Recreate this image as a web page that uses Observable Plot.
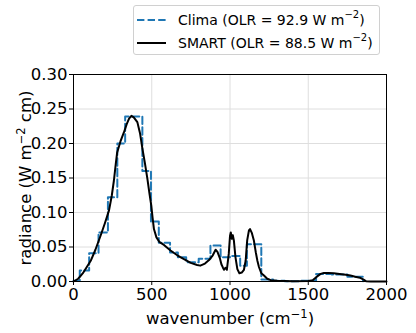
<!DOCTYPE html>
<html>
<head>
<meta charset="utf-8">
<script src="https://cdn.jsdelivr.net/npm/d3@7"></script>
<script src="https://cdn.jsdelivr.net/npm/@observablehq/plot@0.6"></script>
<style>
  html, body { margin: 0; padding: 0; background: #fff; }
  #wrap { position: relative; width: 416px; height: 333px; font-family: "DejaVu Sans", sans-serif; }
  #legend { position: absolute; left: 133px; top: 5px; width: 247px; height: 50px;
    border: 1px solid #d0d0d0; border-radius: 3px; background: rgba(255,255,255,0.8); box-sizing: border-box; }
  .row { position: absolute; left: 0; height: 20px; display: flex; align-items: center; font-size: 14px; color: #000; white-space: nowrap; }
  .row svg { margin-left: 3px; margin-right: 12px; }
  .row sup { font-size: 10px; position: relative; top: -1px; line-height: 0; }
</style>
</head>
<body>
<div id="wrap"></div>
<script>
// Clima band edges (cm^-1) and band-averaged radiance
const climaEdges = [0,40,100,160,220,280,330,380,440,495,545,617,667,720,800,875,940,1000,1065,1108,1200,1275,1350,1450,1550,1650,1750,1850,1950];
const climaValues = [0.001,0.016,0.041,0.071,0.122,0.200,0.239,0.239,0.160,0.087,0.056,0.042,0.035,0.028,0.033,0.052,0.035,0.037,0.023,0.054,0.003,0.001,0.0003,0.001,0.011,0.010,0.007,0.0002];

// SMART spectrum (cm^-1, radiance)
const smartWn = [0,30,60,110,140,174,200,227,245,258,270,279,300,322,340,355,370,385,408,425,440,456,472,485,497,505,514,530,550,578,620,663,700,749,790,810,840,866,890,908,920,935,945,955,962,972,980,992,1000,1005,1012,1018,1025,1035,1047,1060,1075,1089,1100,1110,1121,1128,1140,1153,1165,1175,1185,1200,1217,1238,1260,1300,1400,1500,1530,1555,1579,1600,1630,1663,1700,1740,1770,1800,1830,1856,1870,1900,2000];
const smartVal = [0.0,0.004,0.012,0.030,0.046,0.067,0.084,0.103,0.125,0.146,0.170,0.187,0.203,0.216,0.228,0.236,0.240,0.238,0.231,0.215,0.193,0.172,0.149,0.128,0.110,0.093,0.076,0.064,0.057,0.053,0.045,0.038,0.033,0.027,0.024,0.023,0.026,0.031,0.038,0.046,0.043,0.034,0.025,0.020,0.017,0.020,0.017,0.040,0.066,0.071,0.062,0.067,0.059,0.035,0.018,0.012,0.013,0.017,0.030,0.060,0.074,0.076,0.070,0.059,0.042,0.030,0.021,0.012,0.0087,0.004,0.002,0.001,0.0005,0.0006,0.002,0.007,0.011,0.0125,0.0125,0.012,0.011,0.0098,0.0087,0.007,0.0055,0.0025,0.0003,0,0];

const xTicks = [0,500,1000,1500,2000];
const yTicks = [0,0.05,0.10,0.15,0.20,0.25,0.30];
// [base, superscript, tail]
const legendLabels = [["Clima (OLR = 92.9 W m", "\u22122", ")"], ["SMART (OLR = 88.5 W m", "\u22122", ")"]];
const xLabel = ["wavenumber (cm", "\u22121", ")"];
const yLabel = ["radiance (W m", "\u22122", " cm)"];

const clima = climaEdges.map((e,i) => ({x: e, y: climaValues[i]}));
clima.push({x: climaEdges[climaEdges.length-1], y: climaValues[climaValues.length-1]});
const smart = smartWn.map((w,i) => ({x: w, y: smartVal[i]}));

const chart = Plot.plot({
  width: 416, height: 333,
  marginTop: 74, marginBottom: 52, marginLeft: 73, marginRight: 30,
  style: {fontFamily: "DejaVu Sans, sans-serif", fontSize: "16px", color: "#000", background: "#fff"},
  x: {domain: [0,2000], ticks: xTicks, tickFormat: d => String(d), label: null},
  y: {domain: [0,0.30], ticks: yTicks, tickFormat: d3.format(".2f"), label: null},
  marks: [
    Plot.gridX(xTicks.slice(1,-1), {stroke: "#dedede", strokeOpacity: 1, strokeWidth: 1}),
    Plot.gridY(yTicks.slice(1,-1), {stroke: "#dedede", strokeOpacity: 1, strokeWidth: 1}),
    Plot.line(clima, {x: "x", y: "y", curve: "step-after", stroke: "#1f77b4", strokeWidth: 2, strokeDasharray: "7.4,3.2"}),
    Plot.line(smart, {x: "x", y: "y", stroke: "#000", strokeWidth: 2}),
    Plot.frame({stroke: "#000", strokeWidth: 1}),
    Plot.axisX({ticks: xTicks, tickFormat: d => String(d), tickSize: 4, tickPadding: 3, fontSize: 16.5, label: null}),
    Plot.axisY({ticks: yTicks, tickFormat: d3.format(".2f"), tickSize: 4, tickPadding: 2, fontSize: 16.5, label: null}),
    Plot.text([xLabel.join("")], {frameAnchor: "bottom", dy: 37, lineAnchor: "middle", text: d => d, fontSize: 16.5, className: "xlab"}),
    Plot.text([yLabel.join("")], {frameAnchor: "left", dx: -48, rotate: -90, lineAnchor: "middle", textAnchor: "middle", text: d => d, fontSize: 16.5, className: "ylab"})
  ]
});

// render superscripts matplotlib-style with tspans
function supify(sel, parts) {
  const t = chart.querySelector(sel + " text");
  if (!t) return;
  t.textContent = "";
  const ns = "http://www.w3.org/2000/svg";
  const a = document.createElementNS(ns, "tspan"); a.textContent = parts[0];
  const b = document.createElementNS(ns, "tspan"); b.textContent = parts[1];
  b.setAttribute("dy", "-6"); b.setAttribute("font-size", "11.5");
  const c = document.createElementNS(ns, "tspan"); c.textContent = parts[2];
  c.setAttribute("dy", "6");
  t.append(a, b, c);
}
supify(".xlab", xLabel);
supify(".ylab", yLabel);

const wrap = document.getElementById("wrap");
wrap.appendChild(chart);

const legend = document.createElement("div");
legend.id = "legend";
const styles = [
  {stroke: "#1f77b4", dash: "7.4,3.2"},
  {stroke: "#000", dash: null}
];
legendLabels.forEach((lab, i) => {
  const row = document.createElement("div");
  row.className = "row";
  row.style.top = (i === 0 ? 4 : 27) + "px";
  row.innerHTML = `<svg width="29" height="10"><line x1="0" y1="5" x2="29" y2="5" stroke="${styles[i].stroke}" stroke-width="2" ${styles[i].dash ? `stroke-dasharray="${styles[i].dash}"` : ""}/></svg><span>${lab[0]}<sup>${lab[1]}</sup>${lab[2]}</span>`;
  legend.appendChild(row);
});
wrap.appendChild(legend);
</script>
</body>
</html>
